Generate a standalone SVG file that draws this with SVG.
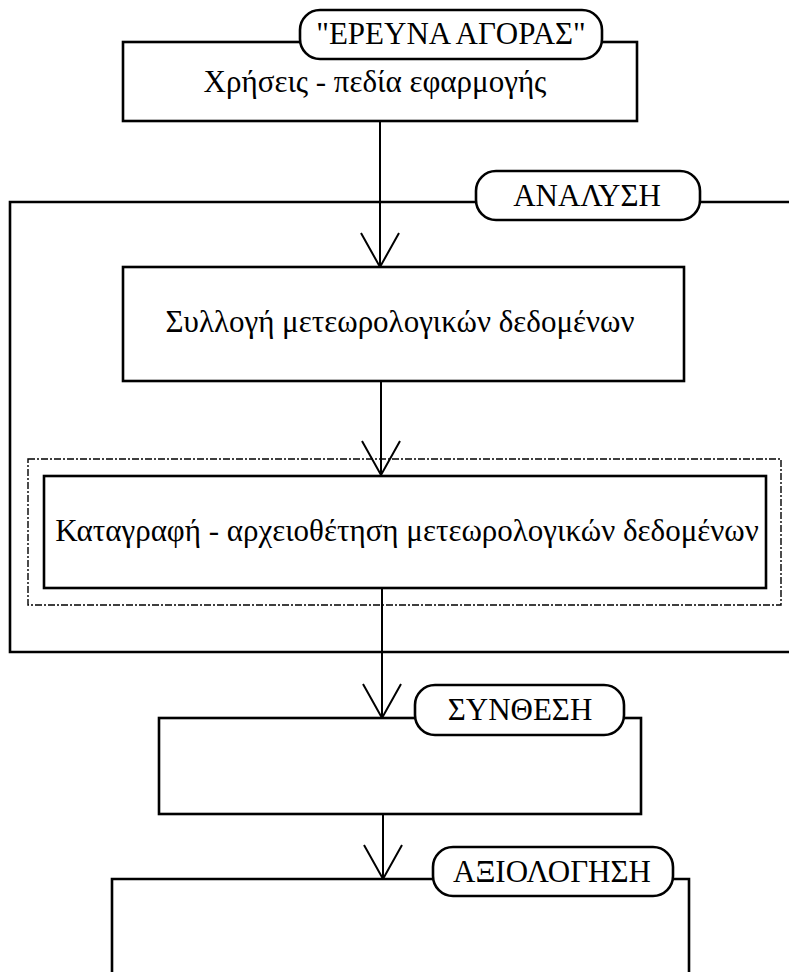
<svg xmlns="http://www.w3.org/2000/svg" width="789" height="972" viewBox="0 0 789 972">
<defs>
<style>
.box{fill:#fff;stroke:#000;stroke-width:2.6}
.pill{fill:#fff;stroke:#000;stroke-width:2.6}
.frame{fill:none;stroke:#000;stroke-width:2.6}
.dash{fill:none;stroke:#000;stroke-width:1.4;stroke-dasharray:7,2,2,2}
.conn{fill:none;stroke:#000;stroke-width:2}
.t{font-family:"Liberation Serif","Times New Roman",serif;font-size:31px;fill:#000;text-anchor:middle}
</style>
<marker id="v" markerUnits="userSpaceOnUse" markerWidth="40" markerHeight="42" viewBox="-36 -21 38 42" refX="0" refY="0" orient="auto">
<path d="M-34,-19 L0,0 L-34,19" fill="none" stroke="#000" stroke-width="2"/>
</marker>
</defs>
<rect width="789" height="972" fill="#fff"/>

<g id="analysis-frame">
<path class="frame" d="M789,202 H10 V652 H789"/>
</g>

<g id="connectors">
<line class="conn" x1="380" y1="121" x2="380" y2="267" marker-end="url(#v)"/>
<line class="conn" x1="381" y1="381" x2="381" y2="475" marker-end="url(#v)"/>
<line class="conn" x1="382" y1="588" x2="382" y2="718" marker-end="url(#v)"/>
<line class="conn" x1="383" y1="814" x2="383" y2="879" marker-end="url(#v)"/>
</g>

<g id="market-research">
<rect class="box" x="123" y="42" width="514" height="79"/>
<rect class="pill" x="300" y="10" width="302" height="49" rx="20" ry="20"/>
<text class="t" x="451" y="44">"ΕΡΕΥΝΑ ΑΓΟΡΑΣ"</text>
<text class="t" x="375" y="92">Χρήσεις - πεδία εφαρμογής</text>
</g>

<g id="analysis-label">
<rect class="pill" x="476" y="171" width="224" height="49" rx="20" ry="20"/>
<text class="t" x="587" y="206">ΑΝΑΛΥΣΗ</text>
</g>

<g id="collection">
<rect class="box" x="123" y="267" width="561" height="114"/>
<text class="t" x="400" y="332">Συλλογή μετεωρολογικών δεδομένων</text>
</g>

<g id="recording">
<rect class="dash" x="28" y="459" width="753" height="146"/>
<rect class="box" x="44" y="476" width="722" height="112"/>
<text class="t" x="407" y="541">Καταγραφή - αρχειοθέτηση μετεωρολογικών δεδομένων</text>
</g>

<g id="synthesis">
<rect class="box" x="159" y="718" width="482" height="96"/>
<rect class="pill" x="415" y="685" width="209" height="50" rx="20" ry="20"/>
<text class="t" x="520" y="720">ΣΥΝΘΕΣΗ</text>
</g>

<g id="evaluation">
<path class="box" d="M112,985 V879 H689 V985"/>
<rect class="pill" x="433" y="847" width="240" height="49" rx="20" ry="20"/>
<text class="t" x="552" y="882">ΑΞΙΟΛΟΓΗΣΗ</text>
</g>
</svg>
